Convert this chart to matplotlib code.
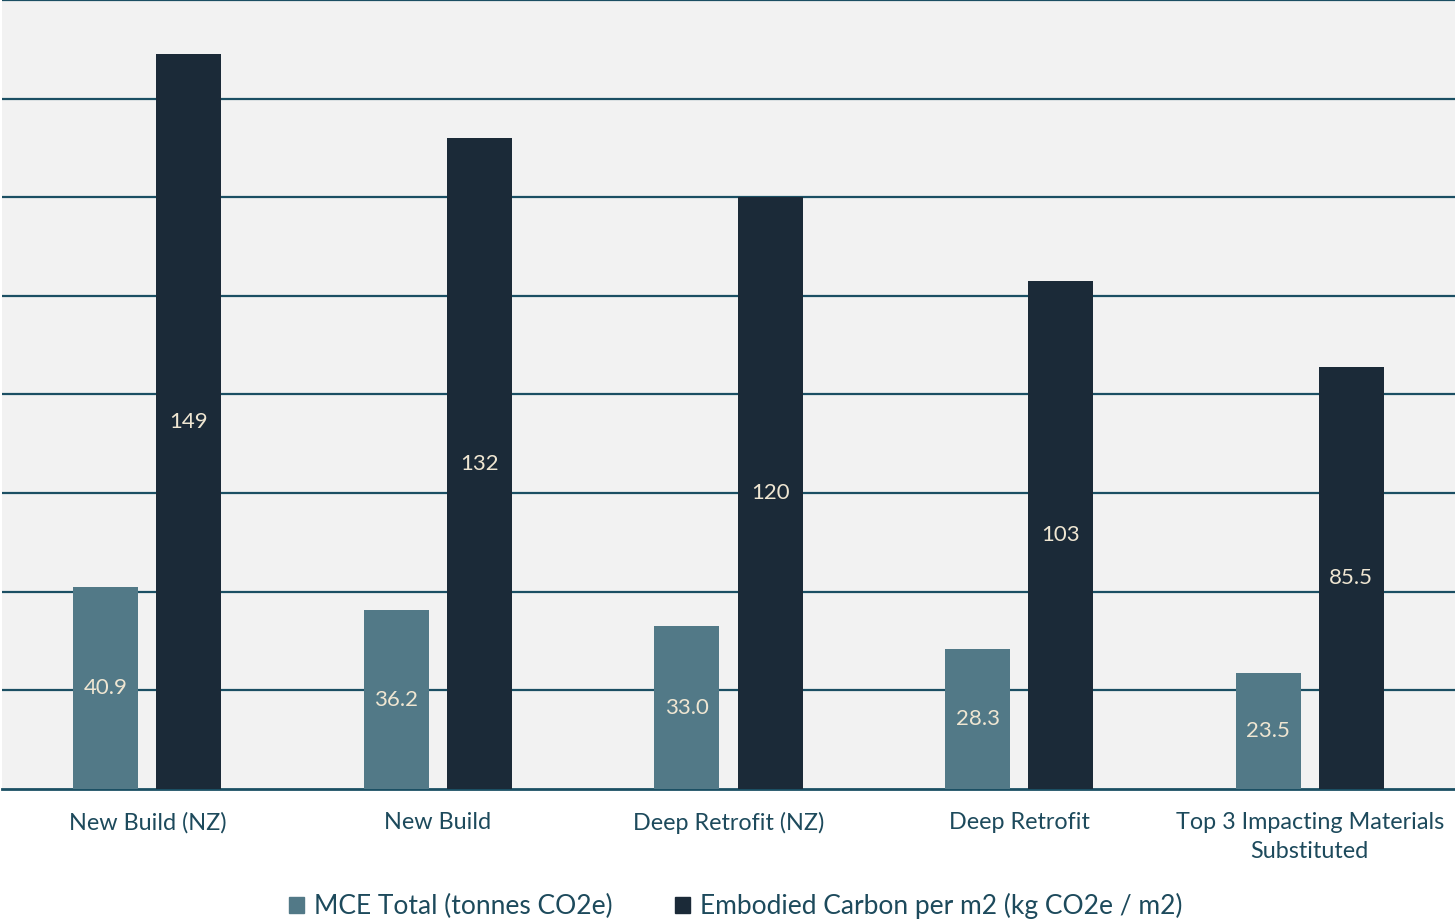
import numpy as np
import matplotlib.pyplot as plt
from matplotlib.patches import Patch

# 各方案的碳排放数据
categories = ['New Build (NZ)', 'New Build', 'Deep Retrofit (NZ)', 'Deep Retrofit',
              'Top 3 Impacting Materials\nSubstituted']
mce_total = [40.9, 36.2, 33.0, 28.3, 23.5]
embodied_per_m2 = [149, 132, 120, 103, 85.5]
mce_labels = ['40.9', '36.2', '33.0', '28.3', '23.5']
embodied_labels = ['149', '132', '120', '103', '85.5']

plt.rcParams['font.family'] = ['Lato', 'DejaVu Sans']

c_mce = '#527987'
c_emb = '#1b2a38'
c_grid = '#1b4f63'
c_text = '#1d4a5c'
c_val = '#efe6d2'

fig = plt.figure(figsize=(14.55, 9.21), dpi=100)
ax = fig.add_axes([2 / 1455, 132 / 921, 1 - 2 / 1455, 789 / 921])
ax.set_facecolor('#f2f2f2')

x = np.arange(len(categories))
w = 0.224
off = 0.143
b1 = ax.bar(x - off, mce_total, w, color=c_mce, zorder=3)
b2 = ax.bar(x + off, embodied_per_m2, w, color=c_emb, zorder=3)

# 数值标签放在柱子中间
for bars, labels in ((b1, mce_labels), (b2, embodied_labels)):
    for bar, lab in zip(bars, labels):
        ax.text(bar.get_x() + bar.get_width() / 2, bar.get_height() / 2, lab,
                ha='center', va='center', color=c_val, fontsize=16, zorder=4)

ax.set_xlim(-0.5, len(categories) - 0.5)
ax.set_ylim(0, 160)
ax.set_yticks(np.arange(20, 161, 20))
ax.yaxis.grid(True, color=c_grid, linewidth=1.6, zorder=1)
ax.tick_params(axis='y', left=False, labelleft=False)
ax.tick_params(axis='x', bottom=False, pad=13)
ax.set_xticks(x)
ax.set_xticklabels(categories, fontsize=16.8, color=c_text, linespacing=1.45)

for side in ('left', 'right', 'top'):
    ax.spines[side].set_visible(False)
ax.spines['bottom'].set_color(c_grid)
ax.spines['bottom'].set_linewidth(2)

handles = [Patch(color=c_mce, label='MCE Total (tonnes CO2e)'),
           Patch(color=c_emb, label='Embodied Carbon per m2 (kg CO2e / m2)')]
fig.legend(handles=handles, loc='center', bbox_to_anchor=(736 / 1455, 1 - 906 / 921),
           ncol=2, frameon=False, fontsize=19, labelcolor=c_text,
           handlelength=0.55, handleheight=0.55, handletextpad=0.4, columnspacing=2.35)

fig.savefig('out.png', dpi=100)
